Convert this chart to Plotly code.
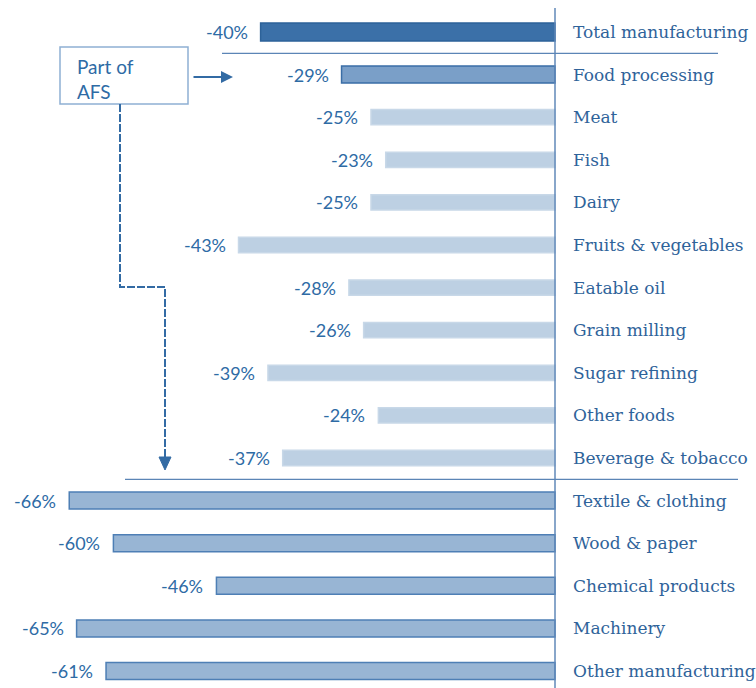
import plotly.graph_objects as go

# Change in output by sector (%)
categories = [
    "Total manufacturing", "Food processing", "Meat", "Fish", "Dairy",
    "Fruits & vegetables", "Eatable oil", "Grain milling", "Sugar refining",
    "Other foods", "Beverage & tobacco", "Textile & clothing", "Wood & paper",
    "Chemical products", "Machinery", "Other manufacturing",
]
values = [-40, -29, -25, -23, -25, -43, -28, -26, -39, -24, -37, -66, -60, -46, -65, -61]
groups = ["total", "food", "afs", "afs", "afs", "afs", "afs", "afs", "afs", "afs", "afs",
          "other", "other", "other", "other", "other"]

W, H = 756, 688
ZERO_PX, PX_PER_PCT = 555, 7.36
ROW0_PX, ROW_PX = 32, 42.6

x_range = [-ZERO_PX / PX_PER_PCT, (W - ZERO_PX) / PX_PER_PCT]
y_range = [(H - ROW0_PX) / ROW_PX, -ROW0_PX / ROW_PX]

styles = {
    "total": dict(fill="#3b70a8", line="#2d6299", width=0.42),
    "food": dict(fill="#7a9fc8", line="#3a6ea6", width=0.40),
    "afs": dict(fill="#bdd0e3", line="#c8d8e8", width=0.36),
    "other": dict(fill="#98b5d4", line="#4e7fb5", width=0.40),
}

TXT = "#2e6ba5"
CAT_TXT = "#2f639a"

fig = go.Figure()
for g, st in styles.items():
    idx = [i for i, gg in enumerate(groups) if gg == g]
    fig.add_trace(go.Bar(
        x=[values[i] for i in idx],
        y=list(idx),
        orientation="h",
        width=st["width"],
        marker=dict(color=st["fill"], line=dict(color=st["line"], width=1.5)),
        hoverinfo="skip",
        showlegend=False,
    ))

annotations = []
for i, (c, v) in enumerate(zip(categories, values)):
    annotations.append(dict(
        x=v, y=i, xref="x", yref="y", text=f"{v}%", showarrow=False,
        xanchor="right", xshift=-11, font=dict(family="Lato", size=18, color=TXT),
    ))
    annotations.append(dict(
        x=0, y=i, xref="x", yref="y", text=c, showarrow=False,
        xanchor="left", xshift=16, font=dict(family="DejaVu Serif", size=17, color=CAT_TXT),
    ))


def px(xp):
    return xp / W


def py(yp):
    return 1 - yp / H


# "Part of AFS" callout
annotations.append(dict(
    x=px(75), y=py(79), xref="paper", yref="paper", text="Part of<br>AFS",
    showarrow=False, xanchor="left", yanchor="middle", align="left",
    font=dict(family="Lato", size=19, color=TXT),
))
annotations.append(dict(
    x=px(233), y=py(77), ax=-41, ay=0, xref="paper", yref="paper",
    text="", showarrow=True, arrowhead=2,
    arrowsize=1.2, arrowwidth=2, arrowcolor="#336ba4",
))

shapes = [
    # zero line
    dict(type="line", xref="x", yref="paper", x0=0, x1=0, y0=py(8), y1=0,
         line=dict(color="#6088b8", width=1.5)),
    # group separators
    dict(type="line", xref="paper", yref="y", x0=px(222), x1=px(718), y0=0.5, y1=0.5,
         line=dict(color="#5b85b6", width=1.2)),
    dict(type="line", xref="paper", yref="y", x0=px(125), x1=px(738), y0=10.5, y1=10.5,
         line=dict(color="#5b85b6", width=1.2)),
    # callout box
    dict(type="rect", xref="paper", yref="paper", x0=px(60), x1=px(188), y0=py(104), y1=py(47),
         line=dict(color="#8fb0d3", width=1.5), fillcolor="rgba(0,0,0,0)"),
    # dashed connector down to the non-food group
    dict(type="path", xref="paper", yref="paper",
         path=f"M {px(120)},{py(104)} L {px(120)},{py(287)} L {px(165)},{py(287)} L {px(165)},{py(458)}",
         line=dict(color="#336ba4", width=2, dash="8px,2px")),
    dict(type="path", xref="paper", yref="paper",
         path=f"M {px(159)},{py(457)} L {px(171)},{py(457)} L {px(165)},{py(470)} Z",
         line=dict(color="#336ba4", width=1), fillcolor="#336ba4"),
]

fig.update_layout(
    width=W, height=H,
    margin=dict(l=0, r=0, t=0, b=0),
    paper_bgcolor="white", plot_bgcolor="white",
    barmode="overlay",
    xaxis=dict(range=x_range, visible=False, fixedrange=True),
    yaxis=dict(range=y_range, visible=False, fixedrange=True),
    annotations=annotations,
    shapes=shapes,
)

fig.write_html("out.html")
